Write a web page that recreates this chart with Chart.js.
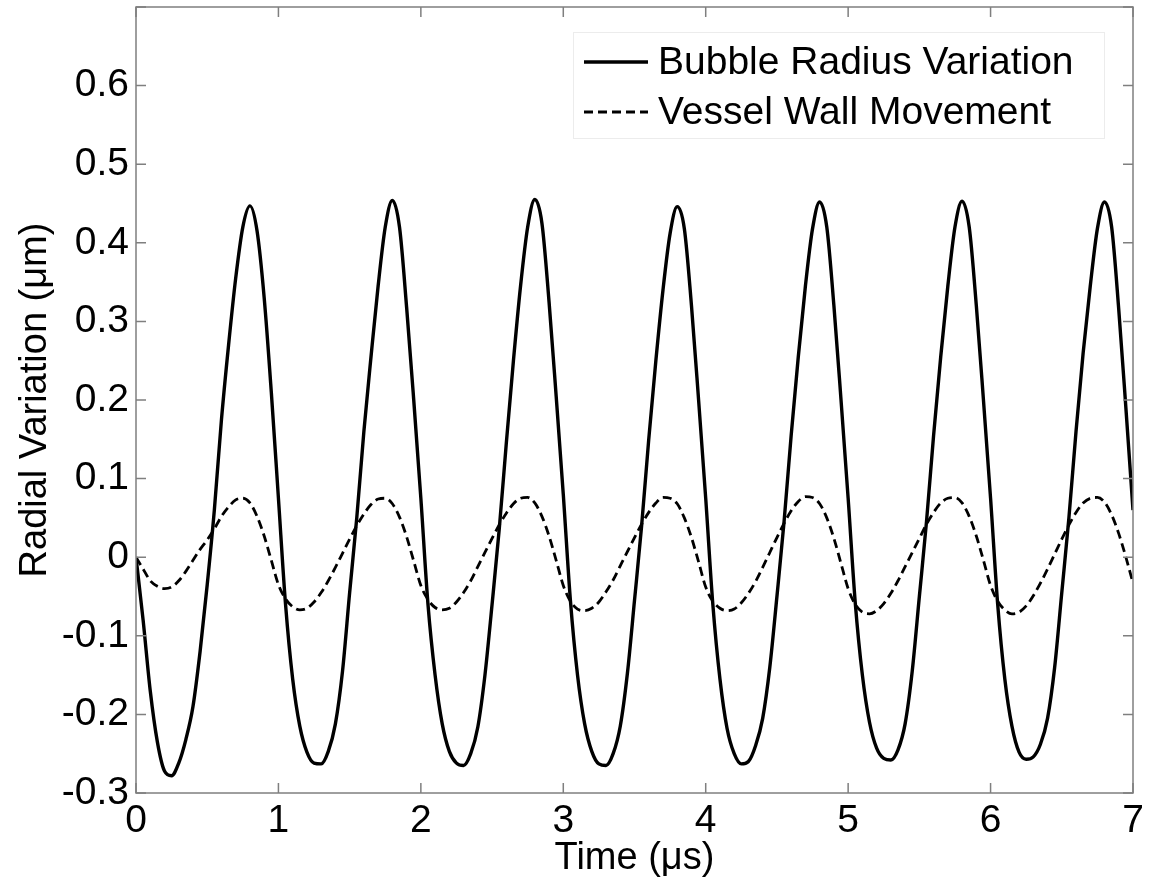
<!DOCTYPE html>
<html><head><meta charset="utf-8">
<script src="https://cdn.jsdelivr.net/npm/chart.js@4.4.0/dist/chart.umd.min.js"></script>
<style>html,body{margin:0;padding:0;background:#fff;}canvas{display:block;}</style>
</head><body>
<canvas id="c" width="1152" height="890"></canvas>
<script>
const timeUs = [
  0,0.05,0.1,0.15,0.2,0.25,0.3,0.35,0.4,0.45,0.5,0.55,0.6,0.65,0.7,0.75,0.8,0.85,0.9,0.95,
  1,1.05,1.1,1.15,1.2,1.25,1.3,1.35,1.4,1.45,1.5,1.55,1.6,1.65,1.7,1.75,1.8,1.85,1.9,1.95,
  2,2.05,2.1,2.15,2.2,2.25,2.3,2.35,2.4,2.45,2.5,2.55,2.6,2.65,2.7,2.75,2.8,2.85,2.9,2.95,
  3,3.05,3.1,3.15,3.2,3.25,3.3,3.35,3.4,3.45,3.5,3.55,3.6,3.65,3.7,3.75,3.8,3.85,3.9,3.95,
  4,4.05,4.1,4.15,4.2,4.25,4.3,4.35,4.4,4.45,4.5,4.55,4.6,4.65,4.7,4.75,4.8,4.85,4.9,4.95,
  5,5.05,5.1,5.15,5.2,5.25,5.3,5.35,5.4,5.45,5.5,5.55,5.6,5.65,5.7,5.75,5.8,5.85,5.9,5.95,
  6,6.05,6.1,6.15,6.2,6.25,6.3,6.35,6.4,6.45,6.5,6.55,6.6,6.65,6.7,6.75,6.8,6.85,6.9,6.95,
  7
];
const bubbleRadius = [
  0,-0.08,-0.17,-0.235,-0.272,-0.278,-0.262,-0.232,-0.19,-0.12,-0.035,0.06,0.175,0.27,0.355,0.42,0.447,0.415,0.33,0.21,
  0.075,-0.06,-0.155,-0.215,-0.248,-0.262,-0.263,-0.247,-0.212,-0.145,-0.045,0.05,0.16,0.255,0.345,0.42,0.454,0.42,0.318,0.2,
  0.075,-0.06,-0.15,-0.212,-0.247,-0.262,-0.265,-0.25,-0.216,-0.15,-0.06,0.035,0.145,0.25,0.345,0.42,0.455,0.425,0.325,0.205,
  0.08,-0.055,-0.15,-0.212,-0.247,-0.263,-0.265,-0.25,-0.215,-0.148,-0.055,0.04,0.15,0.25,0.34,0.412,0.446,0.418,0.32,0.2,
  0.075,-0.06,-0.155,-0.218,-0.25,-0.263,-0.26,-0.24,-0.205,-0.14,-0.05,0.045,0.155,0.255,0.345,0.418,0.452,0.42,0.32,0.2,
  0.075,-0.058,-0.15,-0.21,-0.243,-0.256,-0.258,-0.245,-0.212,-0.145,-0.05,0.045,0.155,0.255,0.345,0.42,0.453,0.42,0.32,0.2,
  0.075,-0.06,-0.155,-0.215,-0.248,-0.257,-0.254,-0.238,-0.205,-0.14,-0.045,0.05,0.16,0.26,0.345,0.418,0.452,0.42,0.315,0.19,
  0.06
];
const vesselWall = [
  0,-0.015,-0.03,-0.037,-0.04,-0.038,-0.03,-0.018,-0.004,0.01,0.022,0.036,0.052,0.064,0.073,0.075,0.069,0.052,0.027,-0.004,
  -0.035,-0.053,-0.063,-0.067,-0.065,-0.057,-0.045,-0.03,-0.013,0.005,0.023,0.04,0.055,0.067,0.074,0.075,0.068,0.051,0.026,-0.005,
  -0.036,-0.054,-0.064,-0.067,-0.065,-0.057,-0.045,-0.03,-0.012,0.006,0.024,0.041,0.056,0.068,0.075,0.076,0.069,0.052,0.027,-0.004,
  -0.036,-0.056,-0.066,-0.068,-0.065,-0.057,-0.044,-0.029,-0.011,0.007,0.025,0.042,0.057,0.069,0.076,0.075,0.068,0.05,0.025,-0.006,
  -0.038,-0.056,-0.065,-0.068,-0.066,-0.058,-0.046,-0.031,-0.013,0.006,0.025,0.043,0.059,0.071,0.077,0.076,0.068,0.05,0.024,-0.008,
  -0.04,-0.06,-0.07,-0.072,-0.068,-0.059,-0.046,-0.03,-0.012,0.006,0.024,0.042,0.057,0.069,0.075,0.076,0.069,0.052,0.027,-0.004,
  -0.036,-0.056,-0.067,-0.072,-0.07,-0.062,-0.049,-0.033,-0.015,0.004,0.023,0.041,0.057,0.069,0.075,0.076,0.07,0.054,0.03,0,
  -0.033
];
const seriesNames = ['Bubble Radius Variation', 'Vessel Wall Movement'];
const xTicks = [0,1,2,3,4,5,6,7];
const xTickLabels = ['0','1','2','3','4','5','6','7'];
const yTicks = [-0.3,-0.2,-0.1,0,0.1,0.2,0.3,0.4,0.5,0.6,0.7];
const yTickLabels = ['-0.3','-0.2','-0.1','0','0.1','0.2','0.3','0.4','0.5','0.6',''];
const xTitle = 'Time (\u03bcs)';
const yTitle = 'Radial Variation (\u03bcm)';

const FONT = "'Liberation Sans', Arial, sans-serif";
const AXIS_GRAY = '#7f7f7f';

const framePlugin = {
  id: 'frame',
  afterDatasetsDraw(chart) {
    const {ctx, chartArea: a, scales: {x, y}} = chart;
    ctx.save();
    ctx.strokeStyle = AXIS_GRAY;
    ctx.lineWidth = 1.5;
    ctx.strokeRect(a.left, a.top, a.right - a.left, a.bottom - a.top);
    ctx.beginPath();
    x.ticks.forEach(t => {
      const px = x.getPixelForValue(t.value);
      ctx.moveTo(px, a.bottom); ctx.lineTo(px, a.bottom - 10);
      ctx.moveTo(px, a.top); ctx.lineTo(px, a.top + 10);
    });
    y.ticks.forEach(t => {
      const py = y.getPixelForValue(t.value);
      ctx.moveTo(a.left, py); ctx.lineTo(a.left + 10, py);
      ctx.moveTo(a.right, py); ctx.lineTo(a.right - 10, py);
    });
    ctx.stroke();
    ctx.restore();
  }
};

const legendPlugin = {
  id: 'insideLegend',
  afterDatasetsDraw(chart) {
    const ctx = chart.ctx;
    ctx.save();
    ctx.fillStyle = '#fff';
    ctx.fillRect(573, 32, 531, 106);
    ctx.strokeStyle = '#ececec';
    ctx.lineWidth = 1;
    ctx.strokeRect(573.5, 32.5, 531, 106);
    chart.data.datasets.forEach((ds, i) => {
      const yy = 62 + i * 50;
      ctx.strokeStyle = ds.borderColor;
      ctx.lineWidth = ds.borderWidth;
      ctx.setLineDash(ds.borderDash || []);
      ctx.beginPath(); ctx.moveTo(584, yy); ctx.lineTo(648, yy); ctx.stroke();
      ctx.setLineDash([]);
      ctx.fillStyle = '#000';
      ctx.font = '39px ' + FONT;
      ctx.textBaseline = 'middle';
      ctx.textAlign = 'left';
      ctx.fillText(ds.label, 658, yy + 1);
    });
    ctx.restore();
  }
};

new Chart(document.getElementById('c'), {
  type: 'line',
  data: {
    datasets: [
      {
        label: seriesNames[0],
        data: timeUs.map((t, i) => ({x: t, y: bubbleRadius[i]})),
        borderColor: '#000', borderWidth: 3.4, pointRadius: 0,
        cubicInterpolationMode: 'monotone', fill: false
      },
      {
        label: seriesNames[1],
        data: timeUs.map((t, i) => ({x: t, y: vesselWall[i]})),
        borderColor: '#000', borderWidth: 2.8, borderDash: [9, 5], pointRadius: 0,
        cubicInterpolationMode: 'monotone', fill: false
      }
    ]
  },
  options: {
    responsive: false,
    devicePixelRatio: 1,
    animation: false,
    layout: {padding: {top: 7, right: 19, left: 0, bottom: 0}},
    plugins: {legend: {display: false}, tooltip: {enabled: false}},
    scales: {
      x: {
        type: 'linear', min: 0, max: 7,
        grid: {display: false, drawTicks: false},
        border: {display: false},
        afterBuildTicks: s => { s.ticks = xTicks.map(v => ({value: v})); },
        afterFit: s => { s.height = 97; s.paddingLeft = 0; s.paddingRight = 0; },
        ticks: {
          color: '#000', font: {family: FONT, size: 39}, padding: 5, maxRotation: 0,
          callback: (v, i) => xTickLabels[i]
        },
        title: {display: true, text: xTitle, color: '#000', font: {family: FONT, size: 38}, padding: {top: 0, bottom: 9}}
      },
      y: {
        type: 'linear', min: -0.3, max: 0.7,
        grid: {display: false, drawTicks: false},
        border: {display: false},
        afterBuildTicks: s => { s.ticks = yTicks.map(v => ({value: v})); },
        afterFit: s => { s.width = 136; s.paddingTop = 0; s.paddingBottom = 0; },
        ticks: {
          color: '#000', font: {family: FONT, size: 39}, padding: 7,
          callback: (v, i) => yTickLabels[i]
        },
        title: {display: true, text: yTitle, color: '#000', font: {family: FONT, size: 38}, padding: {top: 13, bottom: 0}}
      }
    }
  },
  plugins: [framePlugin, legendPlugin]
});
</script>
</body></html>
